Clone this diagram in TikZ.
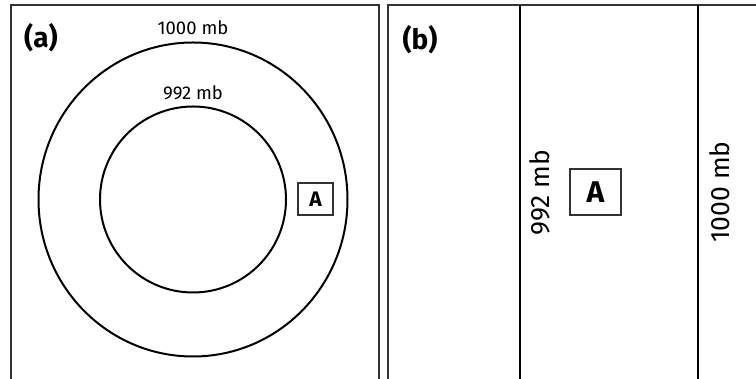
\documentclass[tikz,border=0pt]{standalone}
\usepackage{fontspec}
\setmainfont{Fira Sans}
\begin{document}
\begin{tikzpicture}[x=1pt,y=1pt,
  frame/.style={draw=black!80,line width=1.8pt},
  isobar/.style={draw=black,line width=2pt},
  lbl/.style={inner sep=0pt,font=\fontsize{18.5}{22}\selectfont},
  vlbl/.style={inner sep=0pt,rotate=90,font=\fontsize{26.5}{31}\selectfont},
  panel/.style={inner sep=0pt,font=\bfseries\fontsize{28}{33}\selectfont},
  abox/.style={draw=black!80,line width=1.1pt,inner sep=0pt,font=\bfseries}
]
\useasboundingbox (0,0) rectangle (756,379);
% panel frames
\draw[frame] (11,-2) -- (11,374) -- (379,374) -- (379,-2);
\draw[frame] (388,-2) -- (388,374) -- (758,374);
% panel (a)
\coordinate (c) at (193,179.5);
\draw[isobar] (c) ellipse[x radius=154.5,y radius=157];
\draw[isobar] (c) circle[radius=93];
\node[lbl] (l1000) at (193,351) {1000 mb};
\node[lbl] (l992) at (193,286) {992 mb};
\node[panel] (pa) at (41,341) {(a)};
\node[abox,minimum width=35pt,minimum height=32pt,font=\bfseries\fontsize{21}{25}\selectfont] (Aa) at (315.5,180) {A};
% panel (b)
\draw[isobar] (520,-2) -- (520,374);
\draw[isobar] (698,-2) -- (698,374);
\node[vlbl] (v992) at (540,186) {992 mb};
\node[vlbl] (v1000) at (720,187) {1000 mb};
\node[panel] (pb) at (420,339) {(b)};
\node[abox,minimum width=51pt,minimum height=46pt,font=\bfseries\fontsize{30}{34}\selectfont] (Ab) at (595.5,187) {A};
\end{tikzpicture}
\end{document}
